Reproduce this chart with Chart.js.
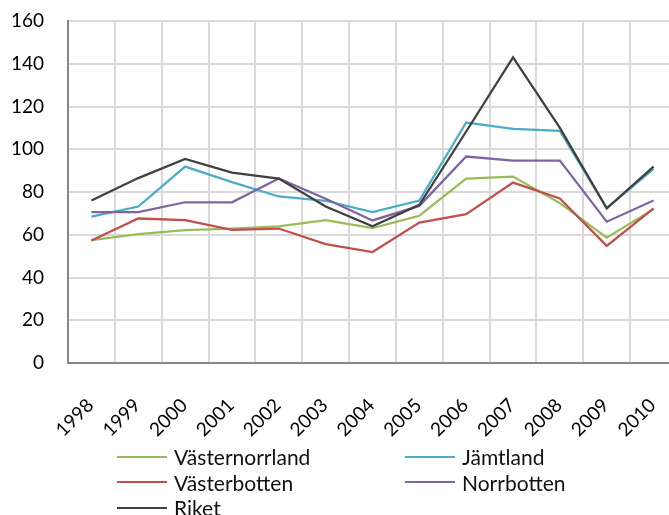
<!DOCTYPE html>
<html>
<head>
<meta charset="utf-8">
<script src="https://cdn.jsdelivr.net/npm/chart.js@4/dist/chart.umd.min.js"></script>
<style>
  html, body { margin: 0; padding: 0; background: #fff; overflow: hidden; }
  #wrap { position: relative; width: 669px; height: 515px; overflow: hidden; }
  #c { display: block; }
  #legend {
    position: absolute; left: 117px; top: 444px;
    display: grid; grid-template-columns: 288px 200px; grid-auto-rows: 25.5px;
    font-family: Lato, sans-serif; font-size: 21px; color: #111;
  }
  .item { display: flex; align-items: center; white-space: nowrap; }
  .swatch { width: 50px; height: 2px; margin-right: 7px; }
</style>
</head>
<body>
<div id="wrap">
  <canvas id="c" width="677" height="515"></canvas>
  <div id="legend"></div>
</div>
<script>
// Index per region, 1998-2010
const years = ['1998', '1999', '2000', '2001', '2002', '2003', '2004', '2005', '2006', '2007', '2008', '2009', '2010'];
const vasternorrland = [57.5, 60.3, 62.2, 62.9, 63.9, 66.8, 63.1, 68.9, 86.3, 87.2, 74.8, 58.6, 72.0];
const jamtland = [68.5, 73.2, 91.9, 84.6, 77.9, 75.9, 70.6, 76.0, 112.5, 109.5, 108.6, 72.4, 90.8];
const vasterbotten = [57.3, 67.6, 66.8, 62.3, 62.9, 55.6, 51.9, 65.7, 69.6, 84.4, 77.0, 54.8, 72.3];
const norrbotten = [70.6, 70.6, 75.2, 75.2, 86.3, 76.8, 66.7, 73.5, 96.6, 94.7, 94.7, 66.1, 76.0];
const riket = [76.0, 86.5, 95.5, 89.1, 86.3, 73.2, 64.0, 74.0, 108.3, 143.0, 110.0, 72.4, 91.9];

const seriesNames = ['Västernorrland', 'Jämtland', 'Västerbotten', 'Norrbotten', 'Riket'];
const seriesData = [vasternorrland, jamtland, vasterbotten, norrbotten, riket];
const seriesColors = ['#9BBB59', '#4BACC6', '#C0504D', '#8064A2', '#404040'];

const datasets = seriesNames.map((name, i) => ({
  label: name,
  data: seriesData[i],
  borderColor: seriesColors[i],
  backgroundColor: seriesColors[i],
  borderWidth: 2.25,
  pointRadius: 0,
  tension: 0,
  fill: false,
  order: seriesNames.length - i
}));

const tickFont = { family: 'Lato, sans-serif', size: 19 };

new Chart(document.getElementById('c'), {
  type: 'line',
  data: { labels: years, datasets: datasets },
  options: {
    responsive: false,
    animation: false,
    layout: { padding: { left: 0, right: 0, top: 21, bottom: 75 } },
    plugins: { legend: { display: false }, tooltip: { enabled: false } },
    scales: {
      x: {
        offset: true,
        grid: { offset: true, color: '#d9d9d9', lineWidth: 2, drawTicks: false },
        border: { color: '#868686', width: 2 },
        ticks: {
          autoSkip: false, minRotation: 45, maxRotation: 45,
          padding: 31, labelOffset: -1, font: tickFont, color: '#000'
        },
        afterFit(scale) {
          scale.height = 77;
          scale.paddingLeft = 0;
          scale.paddingRight = 0;
        }
      },
      y: {
        min: 0, max: 160,
        grid: { color: '#d9d9d9', lineWidth: 2, drawTicks: false },
        border: { color: '#868686', width: 2 },
        ticks: { stepSize: 20, padding: 24, font: tickFont, color: '#000' },
        afterFit(scale) {
          scale.width = 68;
          // tick padding would otherwise push the plot top down
          scale.paddingTop = 0;
          scale.paddingBottom = 0;
        }
      }
    }
  }
});

// Two-column legend below the chart
const legendEl = document.getElementById('legend');
datasets.forEach(ds => {
  const item = document.createElement('div');
  item.className = 'item';
  item.innerHTML = `<span class="swatch" style="background:${ds.borderColor}"></span><span>${ds.label}</span>`;
  legendEl.appendChild(item);
});
</script>
</body>
</html>
